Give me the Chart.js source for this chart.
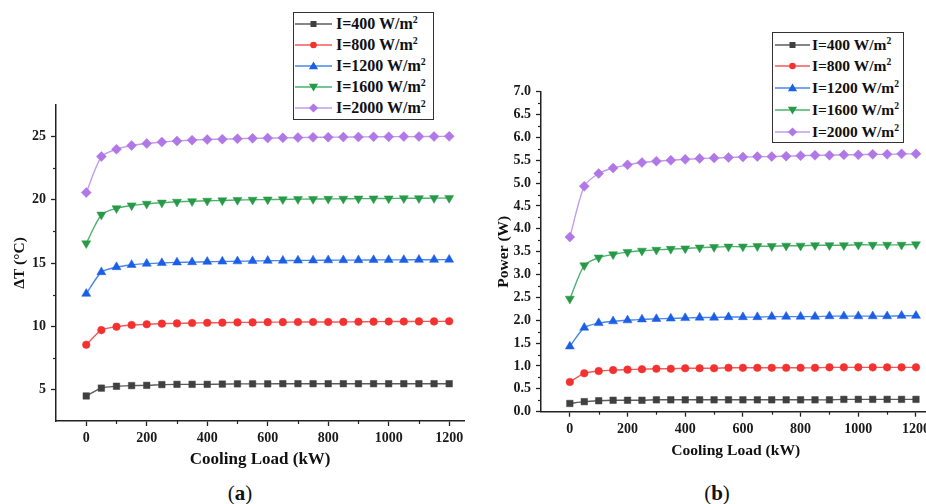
<!DOCTYPE html>
<html><head><meta charset="utf-8">
<script src="https://cdn.jsdelivr.net/npm/chart.js@4"></script>
<style>
html,body{margin:0;padding:0;background:#fff;width:926px;height:504px;overflow:hidden;position:relative;font-family:"Liberation Serif","Times New Roman",serif;}
canvas{position:absolute;top:0;}
#cA{left:0;} #cB{left:470px;}
.legend{position:absolute;background:#fff;border:1.5px solid #333;box-sizing:border-box;}
.item{position:absolute;height:20px;display:flex;align-items:center;white-space:nowrap;font-weight:bold;color:#111;}
.item svg{flex:none;}
.item sup{font-size:0.62em;vertical-align:0.6em;line-height:0;}
.cap{position:absolute;font-size:21px;color:#111;transform:translate(-50%,-50%);top:493px;}
</style></head>
<body>
<canvas id="cA" width="470" height="475"></canvas>
<canvas id="cB" width="480" height="475"></canvas>
<div id="legA" class="legend" style="left:293px;top:12px;width:141px;height:108px;font-size:16px;"></div>
<div id="legB" class="legend" style="left:772px;top:32px;width:132px;height:111px;font-size:15.5px;"></div>
<div class="cap" style="left:240px;">(<b>a</b>)</div>
<div class="cap" style="left:717px;">(<b>b</b>)</div>
<script>
// ---------- data ----------
const xLoad = [0,50,100,150,200,250,300,350,400,450,500,550,600,650,700,750,800,850,900,950,1000,1050,1100,1150,1200];
const seriesNames = ['I=400 W/m','I=800 W/m','I=1200 W/m','I=1600 W/m','I=2000 W/m'];

const dT400  = [4.48,5.10,5.25,5.30,5.32,5.38,5.40,5.40,5.40,5.42,5.44,5.44,5.44,5.45,5.45,5.45,5.45,5.45,5.45,5.45,5.45,5.45,5.45,5.45,5.45];
const dT800  = [8.53,9.69,9.96,10.10,10.15,10.20,10.22,10.25,10.27,10.28,10.30,10.30,10.32,10.32,10.33,10.33,10.33,10.34,10.35,10.36,10.37,10.37,10.38,10.38,10.39];
const dT1200 = [12.57,14.28,14.68,14.85,14.95,15.00,15.05,15.07,15.10,15.12,15.14,15.16,15.18,15.19,15.20,15.21,15.22,15.23,15.23,15.24,15.25,15.25,15.26,15.26,15.27];
const dT1600 = [16.55,18.82,19.32,19.55,19.68,19.77,19.84,19.88,19.92,19.95,19.98,20.00,20.02,20.03,20.05,20.06,20.07,20.08,20.09,20.10,20.10,20.12,20.12,20.13,20.14];
const dT2000 = [20.57,23.42,24.00,24.30,24.45,24.57,24.65,24.72,24.77,24.80,24.83,24.86,24.88,24.90,24.92,24.94,24.95,24.96,24.97,24.98,24.99,25.00,25.00,25.01,25.02];

const pw400  = [0.18,0.22,0.24,0.25,0.25,0.25,0.26,0.26,0.26,0.26,0.26,0.26,0.26,0.26,0.26,0.26,0.26,0.26,0.26,0.27,0.27,0.27,0.27,0.27,0.27];
const pw800  = [0.65,0.84,0.89,0.91,0.92,0.93,0.94,0.94,0.95,0.95,0.95,0.96,0.96,0.96,0.96,0.96,0.96,0.96,0.97,0.97,0.97,0.97,0.97,0.97,0.97];
const pw1200 = [1.43,1.84,1.94,1.98,2.00,2.02,2.03,2.04,2.05,2.06,2.06,2.07,2.07,2.07,2.08,2.08,2.08,2.08,2.09,2.09,2.09,2.09,2.09,2.10,2.10];
const pw1600 = [2.47,3.20,3.37,3.44,3.49,3.52,3.54,3.56,3.57,3.59,3.60,3.61,3.61,3.62,3.62,3.63,3.63,3.64,3.64,3.64,3.65,3.65,3.65,3.65,3.66];
const pw2000 = [3.82,4.93,5.21,5.33,5.40,5.45,5.48,5.50,5.52,5.54,5.55,5.56,5.57,5.58,5.58,5.59,5.60,5.61,5.61,5.62,5.62,5.63,5.63,5.64,5.64];

const xTicks = [0,200,400,600,800,1000,1200];
const xMinor = [100,300,500,700,900,1100];
const yTicksA = [5,10,15,20,25];
const yMinorA = [7.5,12.5,17.5,22.5];
const yTicksB = [0,0.5,1,1.5,2,2.5,3,3.5,4,4.5,5,5.5,6,6.5,7];
const yMinorB = [0.25,0.75,1.25,1.75,2.25,2.75,3.25,3.75,4.25,4.75,5.25,5.75,6.25,6.75];

// ---------- styles ----------
const F = "'Liberation Serif','Times New Roman',serif";
const styles = [
  {pt:'rect', rot:0, r:4.6, fill:'#404040', line:'#5c5c5c', shape:'sq'},
  {pt:'circle', rot:0, r:3.8, fill:'#f43131', line:'#f35a5a', shape:'ci'},
  {pt:'triangle', rot:0, r:5.2, fill:'#1c5fe6', line:'#4a88ea', shape:'tu'},
  {pt:'triangle', rot:180, r:5.2, fill:'#279a48', line:'#4db26e', shape:'td'},
  {pt:'rectRot', rot:0, r:5.0, fill:'#b077e6', line:'#c29bee', shape:'di'}
];

function makeSets(arrs){
  return arrs.map((arr,i)=>({
    label: seriesNames[i],
    data: xLoad.map((x,k)=>({x:x, y:arr[k]})),
    borderColor: styles[i].line,
    backgroundColor: styles[i].fill,
    borderWidth: 1.4,
    tension: 0.25,
    pointStyle: styles[i].pt,
    rotation: styles[i].rot,
    pointRadius: styles[i].r,
    pointBackgroundColor: styles[i].fill,
    pointBorderColor: styles[i].fill,
    pointBorderWidth: 0.5,
    clip: false
  }));
}

const minorTicks = {
  id:'minorTicks',
  afterDraw(chart, args, o){
    const ctx = chart.ctx, xs = chart.scales.x, ys = chart.scales.y;
    ctx.save(); ctx.strokeStyle = '#222'; ctx.lineWidth = 1.2;
    (o.x||[]).forEach(v=>{ const p = Math.round(xs.getPixelForValue(v))+0.5; ctx.beginPath(); ctx.moveTo(p, xs.top); ctx.lineTo(p, xs.top+3); ctx.stroke(); });
    (o.y||[]).forEach(v=>{ const p = Math.round(ys.getPixelForValue(v))+0.5; ctx.beginPath(); ctx.moveTo(ys.right, p); ctx.lineTo(ys.right-3, p); ctx.stroke(); });
    ctx.restore();
  }
};

function build(id, cfg){
  return new Chart(document.getElementById(id), {
    type:'line',
    data:{datasets: makeSets(cfg.series)},
    plugins:[minorTicks],
    options:{
      responsive:false, animation:false, devicePixelRatio:1,
      layout:{padding:cfg.pad},
      plugins:{legend:{display:false}, tooltip:{enabled:false}, minorTicks:{x:xMinor, y:cfg.yMinor}},
      scales:{
        x:{
          type:'linear', min:-100, max:1250,
          afterBuildTicks: s=>{ s.ticks = xTicks.map(v=>({value:v})); },
          afterFit: s=>{ s.height = cfg.xH; },
          grid:{drawOnChartArea:false, drawTicks:true, tickLength:5, color:'#222', tickWidth:1.3},
          border:{display:true, color:'#222', width:1.5},
          ticks:{font:{family:F, size:14, weight:'bold'}, color:'#1a1a1a', padding:4, maxRotation:0, autoSkip:false, callback: v=>String(v)},
          title:{display:true, text:'Cooling Load (kW)', font:{family:F, size:cfg.xTS, weight:'bold'}, color:'#111', padding:{top:0, bottom:cfg.xTP}}
        },
        y:{
          type:'linear', min:cfg.yMin, max:cfg.yMax,
          afterBuildTicks: s=>{ s.ticks = cfg.yTicks.map(v=>({value:v})); },
          afterFit: s=>{ s.width = cfg.yW; },
          grid:{drawOnChartArea:false, drawTicks:true, tickLength:5, color:'#222', tickWidth:1.3},
          border:{display:true, color:'#222', width:1.5},
          ticks:{font:{family:F, size:14, weight:'bold'}, color:'#1a1a1a', padding:5, callback: cfg.yFmt},
          title:{display:true, text:cfg.yTitle, font:{family:F, size:15.5, weight:'bold'}, color:'#111', padding:{top:cfg.yTP, bottom:0}}
        }
      }
    }
  });
}

build('cA', {series:[dT400,dT800,dT1200,dT1600,dT2000], pad:{top:105,right:2,left:0,bottom:0}, xH:54, yW:56,
  yMin:2.5, yMax:27.5, yTicks:yTicksA, yMinor:yMinorA, yFmt:v=>String(v), yTitle:'ΔT (°C)', yTP:10.7, xTS:17, xTP:4.8});
build('cB', {series:[pw400,pw800,pw1200,pw1600,pw2000], pad:{top:91.7,right:19.6,left:0,bottom:0}, xH:63.3, yW:71,
  yMin:0, yMax:7, yTicks:yTicksB, yMinor:yMinorB, yFmt:v=>Number(v).toFixed(1), yTitle:'Power (W)', yTP:24.7, xTS:15.6, xTP:14.6});

// ---------- HTML legends ----------
function marker(st, w){
  const c = w/2, y = 10;
  let s = '';
  if (st.shape==='sq') s = `<rect x="${c-3}" y="${y-3}" width="6" height="6" fill="${st.fill}"/>`;
  else if (st.shape==='ci') s = `<circle cx="${c}" cy="${y}" r="3.3" fill="${st.fill}"/>`;
  else if (st.shape==='tu') s = `<polygon points="${c},${y-4.5} ${c+4.6},${y+3.3} ${c-4.6},${y+3.3}" fill="${st.fill}"/>`;
  else if (st.shape==='td') s = `<polygon points="${c},${y+4.5} ${c+4.6},${y-3.3} ${c-4.6},${y-3.3}" fill="${st.fill}"/>`;
  else s = `<polygon points="${c},${y-4.6} ${c+4.6},${y} ${c},${y+4.6} ${c-4.6},${y}" fill="${st.fill}"/>`;
  return `<svg width="${w}" height="20"><line x1="0" y1="${y}" x2="${w}" y2="${y}" stroke="${st.line}" stroke-width="1.4"/>${s}</svg>`;
}
function legend(id, ys, lineLeft, lineW, gap){
  const el = document.getElementById(id);
  seriesNames.forEach((n,i)=>{
    const d = document.createElement('div');
    d.className = 'item';
    d.style.left = lineLeft + 'px';
    d.style.top = (ys[i]-10) + 'px';
    d.innerHTML = marker(styles[i], lineW) + `<span style="margin-left:${gap}px">${n}<sup>2</sup></span>`;
    el.appendChild(d);
  });
}
legend('legA', [10.5,31.5,52.5,73.5,94.5], 0.5, 37, 4.5);
legend('legB', [11.5,33.2,54.8,76.5,98.5], 1.5, 35, 2.5);
</script>
</body></html>
